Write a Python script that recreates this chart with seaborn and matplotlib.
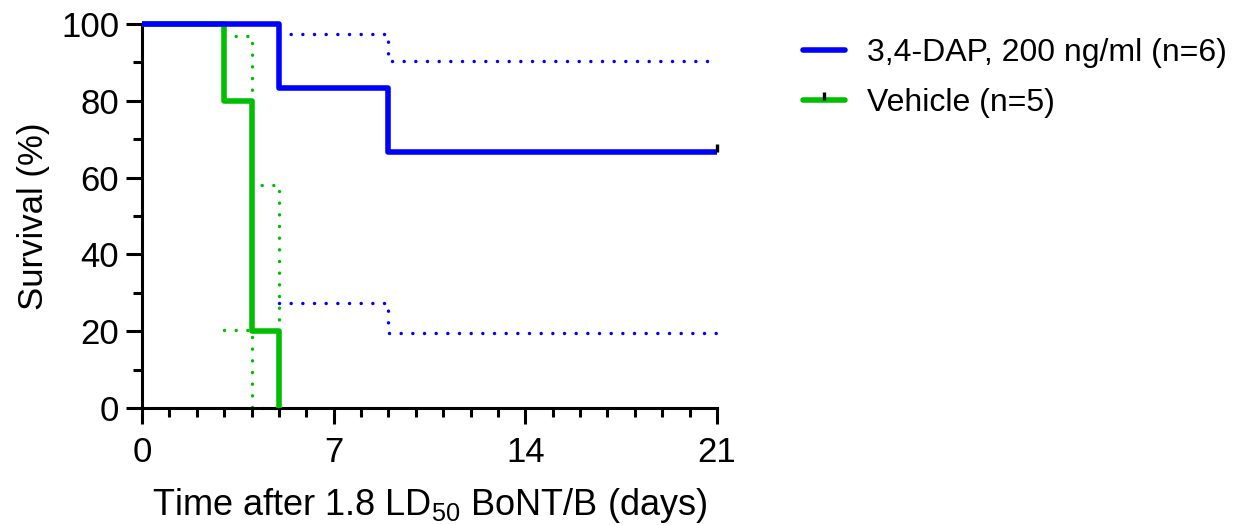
import matplotlib
matplotlib.use("Agg")
import matplotlib.pyplot as plt
from matplotlib.lines import Line2D
from matplotlib.path import Path
from matplotlib.ticker import MultipleLocator
import seaborn as sns
import pandas as pd

# ---- data ----
dap_label = "3,4-DAP, 200 ng/ml (n=6)"
veh_label = "Vehicle (n=5)"

dap_time = [0, 5, 9, 21]
dap_surv = [100, 83.33, 66.67, 66.67]
dap_ci_time = [5, 9, 21]
dap_ci_upper = [97.3, 90.3, 90.3]
dap_ci_lower = [27.3, 19.5, 19.5]
dap_censor_time = [21]
dap_censor_surv = [66.67]

veh_time = [0, 3, 4, 5]
veh_surv = [100, 80, 20, 0]
veh_ci_time = [3, 4, 5]
veh_ci_upper = [97.0, 58.0, 0.0]
veh_ci_lower = [20.3, 0.0, 0.0]

x_ticks = [0, 7, 14, 21]
y_ticks = [0, 20, 40, 60, 80, 100]

BLUE = "#0000FF"
GREEN = "#00BF00"

sns.set_style("ticks")
plt.rcParams["font.family"] = ["Liberation Sans", "DejaVu Sans"]
plt.rcParams["mathtext.default"] = "regular"
plt.rcParams["text.color"] = "black"
plt.rcParams["axes.labelcolor"] = "black"
plt.rcParams["xtick.color"] = "black"
plt.rcParams["ytick.color"] = "black"

fig = plt.figure(figsize=(12.46, 5.25), dpi=100)
ax = fig.add_axes([142 / 1246, 1 - 408 / 525, (717 - 142) / 1246, (408 - 24) / 525])

dot_kw = dict(linewidth=2.5, linestyle=(0, (0.01, 3.35)), dash_capstyle="round",
              drawstyle="steps-post", clip_on=False)

# vehicle
sns.lineplot(x=veh_ci_time, y=veh_ci_upper, ax=ax, color=GREEN, zorder=2, **dot_kw)
sns.lineplot(x=veh_ci_time, y=veh_ci_lower, ax=ax, color=GREEN, zorder=2, **dot_kw)
sns.lineplot(x=veh_time, y=veh_surv, ax=ax, color=GREEN, linewidth=4.0,
             drawstyle="steps-post", clip_on=False, zorder=3, solid_capstyle="butt")

# 3,4-DAP
sns.lineplot(x=dap_ci_time, y=dap_ci_upper, ax=ax, color=BLUE, zorder=2, **dot_kw)
sns.lineplot(x=dap_ci_time, y=dap_ci_lower, ax=ax, color=BLUE, zorder=2, **dot_kw)
sns.lineplot(x=dap_time, y=dap_surv, ax=ax, color=BLUE, linewidth=4.0,
             drawstyle="steps-post", clip_on=False, zorder=4, solid_capstyle="butt")

censor_marker = Path([(0, 0), (0, 1)], [Path.MOVETO, Path.LINETO])
ax.plot(dap_censor_time, dap_censor_surv, linestyle="none", marker=censor_marker,
        markersize=11.5, markeredgewidth=2.4, markeredgecolor="black",
        clip_on=False, zorder=5)

ax.set_xlim(0, 21)
ax.set_ylim(0, 100)
ax.set_xticks(x_ticks)
ax.set_yticks(y_ticks)
ax.xaxis.set_minor_locator(MultipleLocator(1))
ax.yaxis.set_minor_locator(MultipleLocator(10))

for s in ["top", "right"]:
    ax.spines[s].set_visible(False)
for s in ["left", "bottom"]:
    ax.spines[s].set_linewidth(2.2)
    ax.spines[s].set_color("black")

ax.tick_params(which="major", length=11.5, width=2.2, color="black",
               labelsize=25, labelcolor="black", pad=5)
ax.tick_params(which="minor", length=6.5, width=2.2, color="black")
ax.tick_params(axis="x", which="major", pad=9)

ax.set_xlabel("Time after 1.8 LD$_{50}$ BoNT/B (days)", fontsize=26, labelpad=12,
              color="black")
ax.set_ylabel("Survival (%)", fontsize=25, labelpad=8, color="black")

handles = [
    Line2D([], [], color=BLUE, linewidth=4.0),
    Line2D([], [], color=GREEN, linewidth=4.0, marker=censor_marker,
           markersize=11.5, markeredgewidth=2.4, markeredgecolor="black"),
]
leg = fig.legend(handles, [dap_label, veh_label], loc="upper left",
                 bbox_to_anchor=(797 / 1246, 1 - 32 / 525), frameon=False,
                 fontsize=23, handlelength=1.3, handletextpad=0.7, labelspacing=0.62,
                 borderaxespad=0, borderpad=0.2, markerfirst=True)
for t in leg.get_texts():
    t.set_color("black")

fig.savefig("out.png", dpi=100)
